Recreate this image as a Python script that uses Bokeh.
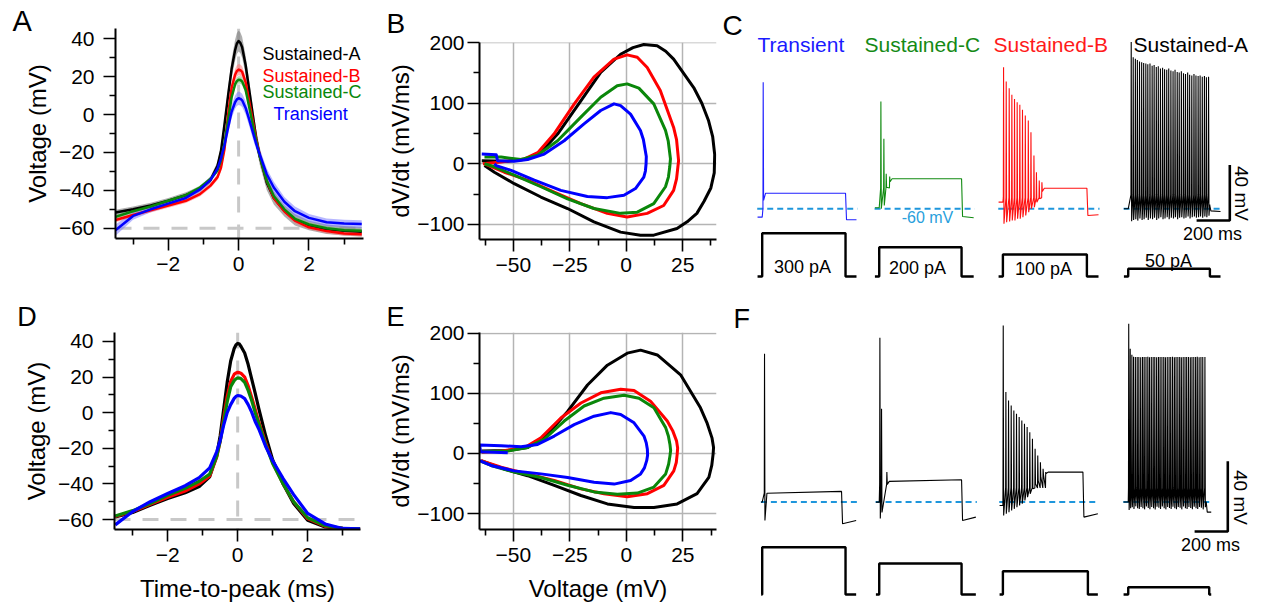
from bokeh.plotting import figure
from bokeh.models import Range1d, FixedTicker, Span, Label
from bokeh.layouts import row, column
from bokeh.embed import file_html
from bokeh.resources import INLINE

FONT = "Liberation Sans"
BLACK = "#000000"
RED = "#ff0000"
GREEN = "#0a870a"
BLUE = "#0000ff"
DASHBLUE = "#1e96dc"

# ===================== DATA =====================
group_names = ["Sustained-A", "Sustained-B", "Sustained-C", "Transient"]
stim_labels = ["300 pA", "200 pA", "100 pA", "50 pA"]

# ---- Panel A / D : AP waveforms (mV) vs time-to-peak (ms)
ap_time_ms = [-3.5, -3.0, -2.5, -2.0, -1.5, -1.1, -0.8, -0.6, -0.5, -0.4, -0.3, -0.2, -0.1, -0.05, 0.0,
              0.05, 0.1, 0.2, 0.3, 0.4, 0.5, 0.6, 0.8, 1.0, 1.3, 1.6, 2.0, 2.5, 3.0, 3.5]

A_sustA = [-51.7, -50.0, -48.0, -45.5, -42.5, -39.3, -34.5, -27.0, -19.0, -5.0, 10.0, 24.0, 34.0, 37.5, 38.8,
           37.8, 35.5, 26.0, 13.0, 0.0, -12.5, -22.0, -36.0, -44.0, -50.8, -55.5, -58.5, -60.5, -61.3, -61.8]
A_sustA_sem = [1.5, 1.5, 1.5, 1.5, 1.5, 1.5, 1.8, 2.0, 2.5, 3.0, 4.0, 5.0, 5.5, 5.5, 5.5,
               5.5, 5.5, 5.0, 5.0, 5.0, 4.5, 4.5, 4.0, 3.5, 3.0, 3.0, 2.5, 2.5, 2.5, 2.5]
A_sustB = [-55.6, -53.0, -50.5, -48.0, -45.5, -42.0, -37.5, -33.0, -28.0, -18.0, 0.0, 14.0, 21.0, 23.0, 23.7,
           23.4, 22.5, 17.0, 7.0, -3.0, -13.0, -21.5, -35.0, -44.0, -51.0, -56.0, -59.5, -61.5, -62.8, -63.2]
A_sustB_sem = [1.2, 1.2, 1.2, 1.2, 1.2, 1.2, 1.3, 1.5, 2.0, 2.5, 3.0, 3.0, 3.0, 3.0, 3.0,
               3.0, 3.0, 3.0, 3.0, 2.5, 2.5, 2.0, 2.0, 1.8, 1.5, 1.5, 1.2, 1.2, 1.2, 1.2]
A_sustC = [-54.0, -51.0, -48.5, -45.5, -42.5, -38.5, -34.0, -29.5, -24.0, -15.0, -3.0, 9.0, 16.0, 17.6, 18.4,
           18.2, 17.5, 13.0, 4.0, -5.0, -14.0, -22.0, -35.0, -43.0, -50.0, -55.0, -58.0, -60.0, -61.0, -61.3]
A_sustC_sem = [1.0, 1.0, 1.0, 1.0, 1.0, 1.0, 1.0, 1.2, 1.5, 2.0, 2.0, 2.0, 2.0, 2.0, 2.0,
               2.0, 2.0, 2.0, 2.0, 2.0, 2.0, 1.8, 1.5, 1.5, 1.2, 1.2, 1.0, 1.0, 1.0, 1.0]
A_trans = [-61.0, -53.5, -50.0, -47.0, -44.0, -39.5, -34.5, -28.5, -23.0, -16.0, -7.0, 1.5, 6.5, 8.0, 8.6,
           8.3, 7.5, 3.5, -2.5, -9.0, -15.5, -21.0, -31.5, -38.5, -46.0, -51.0, -54.5, -56.8, -57.5, -57.8]
A_trans_sem = [3.0, 2.0, 1.5, 1.5, 1.5, 1.5, 1.5, 2.0, 2.5, 3.0, 3.5, 3.5, 3.5, 3.5, 3.5,
               3.5, 3.5, 3.5, 3.5, 3.5, 3.0, 3.0, 3.0, 3.0, 2.5, 2.5, 2.0, 2.0, 2.0, 2.0]

D_sustA = [-58.5, -56.0, -52.0, -48.2, -45.0, -41.5, -36.0, -24.0, -13.0, 2.0, 17.0, 29.0, 36.0, 38.0, 38.9,
           38.5, 37.0, 33.5, 27.0, 19.0, 11.0, 2.5, -13.0, -26.5, -40.0, -51.0, -60.4, -64.2, -65.0, -65.3]
D_sustB = [-58.3, -55.5, -51.5, -47.5, -44.0, -40.0, -35.5, -25.0, -16.0, -3.0, 9.0, 17.5, 21.5, 22.3, 22.6,
           22.5, 22.0, 20.0, 15.0, 8.7, 2.0, -5.0, -17.0, -28.0, -40.0, -50.0, -59.5, -63.8, -65.0, -65.3]
D_sustC = [-58.0, -55.0, -51.0, -46.4, -42.5, -38.5, -34.5, -24.5, -16.0, -5.0, 6.0, 14.5, 18.0, 19.0, 19.5,
           19.4, 19.0, 17.0, 12.5, 6.8, 0.0, -6.0, -18.0, -28.5, -40.0, -50.0, -59.0, -63.5, -65.0, -65.3]
D_trans = [-63.0, -55.5, -50.0, -45.4, -41.0, -36.5, -31.0, -22.0, -15.6, -7.0, 0.0, 4.5, 8.0, 9.1, 9.6,
           9.5, 9.2, 7.9, 4.5, 0.3, -5.0, -9.0, -19.0, -27.0, -37.0, -46.0, -56.6, -62.5, -65.0, -65.3]

# ---- Panel B / E : phase plots (V in mV, dV/dt in mV/ms)
B_sustA_V = [-64, -52.5, -43.7, -37.8, -30.4, -20.1, -11.3, -2.5, 3.0, 7.8, 13.7, 17.5, 21, 29.9, 33.5, 36.5,
             38.3, 39.2, 39.0, 37.5, 34.5, 31.3, 27.0, 22.5, 12.2, 6.3, -2.5, -14.3, -26, -37.8, -49.6, -58.4, -62.8]
B_sustA_dV = [5, 4, 8, 19, 49, 104, 151, 181, 192, 197, 195, 186, 173, 126, 100, 71,
              45, 15, -15, -40, -62, -82, -96, -107, -118, -118, -113, -96, -74, -55, -33, -14, -3]
B_sustB_V = [-63.5, -55.4, -45, -39, -32, -23, -14.3, -5.4, 0.4, 4.9, 9.3, 15.1, 21, 22.3, 23.2, 22.9,
             22.3, 21, 16.6, 9.3, 0.4, -8.4, -20.1, -31.9, -43.7, -54, -62.8]
B_sustB_dV = [0, 3, 8, 19, 49, 99, 143, 173, 180, 176, 159, 121, 60, 40, 5, -5,
              -25, -44, -69, -82, -88, -82, -66, -47, -27, -14, 0]
B_sustC_V = [-62.8, -55.4, -46.6, -39.3, -30.4, -20.1, -11.3, -4, 0.4, 5.6, 12.2, 17.4, 18.6, 19.6, 19.3,
             18.7, 17.4, 12.2, 4.9, -2.5, -14.3, -26, -37.8, -49.6, -58.4, -62.8]
B_sustC_dV = [11, 11, 7, 14, 38, 77, 110, 129, 132, 125, 99, 55, 38, 8, -5,
              -22, -38, -66, -80, -82, -74, -58, -38, -19, -5, 0]
B_trans_V = [-64, -57.6, -57, -49.6, -43.7, -36.3, -27.5, -18.7, -11.3, -5.4, -2.5, 1.9, 6.3, 7.6, 8.9, 8.8,
             8.5, 7.8, 4.1, -1, -8.4, -17.2, -29, -40.7, -51, -57.6, -58.4]
B_trans_dV = [16, 15, 5, 4, 7, 16, 38, 66, 88, 99, 96, 82, 55, 40, 12, 0,
              -12, -22, -41, -52, -56, -54, -44, -27, -11, -3, 0]

E_sustA_V = [-64, -52.5, -43.7, -34.9, -26, -17.2, -8.4, 0.4, 6.3, 13.7, 24, 32.8, 35.8, 37.9, 38.6, 38.4,
             37.8, 36.5, 31.3, 22.5, 12.2, 3.4, -8.4, -20.1, -31.9, -43.7, -54, -64.3]
E_sustA_dV = [4, 5, 10, 32, 70, 114, 147, 167, 172, 164, 131, 76, 50, 26, 10, -1,
              -20, -40, -67, -84, -90, -90, -84, -70, -53, -37, -26, -12]
E_sustB_V = [-64, -55, -45, -37.8, -29, -20.1, -11.3, -2.5, 3.4, 10.7, 18.1, 20.5, 22.2, 22.7, 22.5,
             22.1, 21, 16.6, 9.3, 0.4, -9.9, -20.1, -31.9, -43.7, -55.4, -64.3]
E_sustB_dV = [2, 4, 10, 26, 59, 84, 101, 107, 105, 87, 54, 38, 21, 9, -1,
              -15, -29, -53, -67, -72, -67, -59, -45, -34, -23, -12]
E_sustC_V = [-64, -52.5, -43.7, -36.3, -27.5, -18.7, -9.9, -1, 5.6, 12.2, 17.4, 18.6, 19.3, 19.6, 19.3,
             18.7, 17.4, 12.2, 4.9, -4, -14.3, -26, -37.8, -49.6, -59.9, -64.3]
E_sustC_dV = [3, 4, 10, 24, 54, 79, 92, 97, 92, 76, 43, 29, 15, 5, -4,
              -18, -34, -56, -66, -68, -64, -53, -40, -31, -20, -13]
E_trans_V = [-52.5, -64.5, -65, -55.4, -46.6, -39.3, -31.9, -23.1, -14.3, -6.9, -2.5, 3.4, 7.8, 8.8, 9.3,
             9.4, 9, 8, 6.3, 1.9, -5.4, -14.3, -26, -37.8, -49.6, -59.9, -65]
E_trans_dV = [1, 3, 14, 13, 11, 15, 29, 48, 62, 68, 65, 51, 29, 18, 7,
              -3, -12, -24, -34, -45, -51, -48, -40, -34, -29, -20, -12]

# ---- Panel C : example firing (time re. step onset in ms, voltage in mV)
C_trans_spk_t = [6]
C_trans_spk_pk = [31.1]
C_trans_spk_tr = [-54.0]
C_trans_levels = [-66.0, -48.8, -48.8, -67.9, -67.9]     # pre, plateau start, plateau end, post drop, post end
C_trans_times = [-28, 502, 568]                            # start, step-off, end

C_sustC_spk_t = [10, 28, 42, 63]
C_sustC_spk_pk = [17.2, -9.6, -34.8, -36.8]
C_sustC_spk_tr = [-60.0, -57.6, -44.5, -40.5]
C_sustC_levels = [-59.2, -38.4, -38.4, -65.5, -66.5]
C_sustC_times = [-26, 496, 569]

C_sustB_spk_t = [4, 20, 38, 54, 70, 86, 102, 118, 135, 153, 169, 187, 202, 219, 235]
C_sustB_spk_pk = [41.9, 31.6, 26.8, 22.0, 19.1, 16.7, 14.8, 11.2, 7.1, 3.5, -4.9, -21.7, -33.7, -39.6, -40.9]
C_sustB_spk_tr = [-70.8, -69.6, -69.1, -68.4, -68.4, -67.2, -67.2, -66.0, -64.8, -62.4, -60.0, -58.8, -55.3, -52.8, -47.5]
C_sustB_levels = [-55.2, -45.2, -45.2, -64.8, -64.3]
C_sustB_times = [-26, 506, 576]

C_sustA_spk_t = [18, 30, 43, 55, 68, 81, 93, 106, 118, 131, 144, 156, 169, 181, 194, 207, 219, 232, 244,
                 257, 270, 282, 295, 307, 320, 333, 345, 358, 370, 383, 396, 408, 421, 433, 446, 459, 471, 484]
C_sustA_spk_pk = [60.0, 49.0, 48.0, 47.0, 46.0, 45.5, 45.0, 44.5, 44.0, 44.5, 43.0, 43.5, 42.0, 42.5, 41.0, 41.5,
                  40.5, 40.0, 41.0, 39.5, 39.0, 40.0, 38.5, 38.0, 39.0, 37.5, 37.0, 38.0, 36.5, 36.0, 37.0, 36.0,
                  35.5, 36.0, 35.0, 35.5, 34.7, 35.0]
C_sustA_spk_tr = [-69.0, -68.0, -67.5, -68.5, -67.0, -68.0, -67.5, -66.5, -68.0, -67.0, -67.5, -66.5, -68.0,
                  -67.0, -66.0, -67.5, -67.0, -66.0, -67.5, -66.5, -67.0, -66.0, -67.5, -66.5, -66.0, -67.0,
                  -66.5, -65.5, -67.0, -66.0, -65.5, -66.5, -66.0, -65.5, -66.5, -65.5, -66.0, -65.0]
C_sustA_levels = [-60.0, -57.0, -58.0, -61.5, -62.0]
C_sustA_times = [-26, 492, 556]

# ---- Panel F : example firing, second set (all black)
F_1_spk_t = [14]
F_1_spk_pk = [24.3]
F_1_spk_tr = [-70.5]
F_1_levels = [-60.1, -55.0, -54.0, -72.4, -70.5]
F_1_times = [-6, 478, 566]

F_2_spk_t = [4, 14, 46]
F_2_spk_pk = [33.4, -7.0, -43.0]
F_2_spk_tr = [-69.4, -66.0, -50.0]
F_2_levels = [-60.1, -48.3, -47.4, -70.5, -68.6]
F_2_times = [-20, 496, 582]

F_3_spk_t = [2, 18, 34, 50, 66, 82, 98, 114, 130, 146, 162, 178, 194, 210, 226, 242, 258]
F_3_spk_pk = [40.4, 2.5, -2.3, -5.1, -8.0, -9.8, -11.7, -13.6, -15.5, -17.4, -20.3, -24.0, -29.7, -33.5,
              -37.4, -41.1, -43.0]
F_3_spk_tr = [-67.7, -66.7, -65.8, -64.8, -63.9, -63.0, -62.0, -61.0, -59.1, -57.3, -55.3, -52.5, -49.7,
              -47.8, -45.9, -44.5, -43.8]
F_3_levels = [-62.0, -43.0, -43.0, -68.6, -66.7]
F_3_times = [-20, 482, 572]

F_4_spk_t = [3, 12, 22, 32, 43, 54, 64, 75, 86, 96, 107, 118, 128, 139, 150, 160, 171, 182, 192, 203, 214, 224,
             235, 246, 256, 267, 278, 288, 299, 310, 320, 331, 342, 352, 363, 374, 384, 395, 406, 416, 427, 438,
             449, 462]
F_4_spk_pk = [41.4, 27.1, 23.7, 22.6, 22.4, 22.5, 22.4, 22.3, 22.5, 22.4, 22.4, 22.6, 22.3, 22.4, 22.5, 22.4,
              22.3, 22.4, 22.5, 22.4, 22.4, 22.3, 22.5, 22.4, 22.4, 22.6, 22.3, 22.4, 22.5, 22.4, 22.3, 22.4,
              22.5, 22.4, 22.4, 22.3, 22.5, 22.4, 22.4, 22.6, 22.3, 22.4, 22.5, 22.4]
F_4_spk_tr = [-64.5, -63.5, -63.0, -64.0, -62.5, -63.5, -64.0, -62.8, -63.6, -64.2, -62.6, -63.4, -64.1, -62.9,
              -63.5, -64.3, -62.7, -63.3, -64.0, -62.6, -63.6, -64.2, -62.8, -63.4, -64.0, -62.7, -63.5, -64.1,
              -62.9, -63.3, -64.2, -62.6, -63.5, -64.0, -62.8, -63.4, -64.1, -62.7, -63.6, -64.0, -62.9, -63.3,
              -64.2, -63.0]
F_4_levels = [-60.0, -60.0, -60.0, -65.8, -65.8]
F_4_times = [-28, 470, 500]

stim_off_C = [502, 496, 506, 492]
stim_off_F = [502, 496, 512, 488]
rest_line_mV = -60.0

# ===================== LAYOUT (page pixels) =====================
FR = {
    "A": dict(cx=0, cy=0, w=380, h=300, fl=115, ft=28, fw=248, fh=210, xr=(-3.5, 3.55), yr=(-65.4, 45.4)),
    "B": dict(cx=380, cy=0, w=340, h=300, fl=479, ft=42, fw=237, fh=197, xr=(-65.0, 40.0), yr=(-125.2, 200.4)),
    "C": dict(cx=720, cy=0, w=543, h=300, fl=720, ft=0, fw=543, fh=300, xr=(-251.2, 3019.9), yr=(-126.0, 89.9)),
    "D": dict(cx=0, cy=300, w=380, h=311, fl=112, ft=332, fw=248, fh=197, xr=(-3.52, 3.51), yr=(-65.6, 45.0)),
    "E": dict(cx=380, cy=300, w=340, h=311, fl=479, ft=332, fw=237, fh=197, xr=(-65.0, 39.9), yr=(-126.6, 201.4)),
    "F": dict(cx=720, cy=300, w=543, h=311, fl=720, ft=300, fw=543, fh=311, xr=(-251.2, 3019.9), yr=(-122.3, 54.6)),
}
trace_offsets = [0, 705, 1450, 2205]          # ms, horizontal placement of the 4 example traces
stim_base_page = {"C": 276, "F": 594}
stim_height_px = {"C": [43.3, 29.3, 22.0, 7.7], "F": [47.3, 31.0, 23.3, 7.3]}


def sx(k):
    f = FR[k]
    return f["fw"] / (f["xr"][1] - f["xr"][0])


def sy(k):
    f = FR[k]
    return f["fh"] / (f["yr"][1] - f["yr"][0])


def p2d(k, px, py):
    f = FR[k]
    return f["xr"][0] + (px - f["fl"]) / sx(k), f["yr"][1] - (py - f["ft"]) / sy(k)


def make_fig(k, axes=True):
    f = FR[k]
    left = f["fl"] - f["cx"]
    top = f["ft"] - f["cy"]
    kw = dict(width=f["w"], height=f["h"], x_range=Range1d(*f["xr"]), y_range=Range1d(*f["yr"]),
              output_backend="svg", toolbar_location=None,
              min_border_left=left, min_border_top=top,
              min_border_right=f["w"] - left - f["fw"], min_border_bottom=f["h"] - top - f["fh"])
    if not axes:
        kw["x_axis_type"] = None
        kw["y_axis_type"] = None
    p = figure(**kw)
    p.frame_align = False
    p.outline_line_color = None
    p.grid.visible = False
    p.background_fill_color = "white"
    p.border_fill_color = "white"
    return p


def text(p, k, px, py, s, size, color=BLACK, align="left", baseline="middle", angle=0.0, place=None):
    x, y = p2d(k, px, py)
    lab = Label(x=x, y=y, text=s, text_font=FONT, text_font_size=f"{size}px", text_color=color,
                text_align=align, text_baseline=baseline, angle=angle)
    if place is None:
        p.add_layout(lab)
    else:
        p.add_layout(lab, place)


def style_axes(p, xt, xm, yt, ym, xlab=None, ylab=None, ystand=9, xstand=6, ylabstand=5, xlabstand=10):
    p.xaxis.ticker = FixedTicker(ticks=xt, minor_ticks=xm)
    p.yaxis.ticker = FixedTicker(ticks=yt, minor_ticks=ym)
    for ax in list(p.xaxis) + list(p.yaxis):
        ax.axis_line_width = 2
        ax.axis_line_color = BLACK
        ax.major_tick_line_width = 1.6
        ax.minor_tick_line_width = 1.6
        ax.major_tick_line_color = BLACK
        ax.minor_tick_line_color = BLACK
        ax.major_tick_out = 12
        ax.major_tick_in = 0
        ax.minor_tick_out = 6
        ax.minor_tick_in = 0
        ax.major_label_text_font = FONT
        ax.major_label_text_font_size = "21px"
        ax.major_label_text_color = BLACK
        ax.axis_label_text_font = FONT
        ax.axis_label_text_font_size = "24px"
        ax.axis_label_text_font_style = "normal"
        ax.axis_label_text_color = BLACK
    p.yaxis.major_label_standoff = ystand
    p.xaxis.major_label_standoff = xstand
    p.yaxis.axis_label_standoff = ylabstand
    p.xaxis.axis_label_standoff = xlabstand
    if xlab:
        p.xaxis.axis_label = xlab
    if ylab:
        p.yaxis.axis_label = ylab


colors4 = [BLACK, RED, GREEN, BLUE]
band_colors = ["#7a7a7a", "#ff7070", "#70b870", "#7070ff"]
band_alpha = [0.6, 0.5, 0.5, 0.5]


def ap_panel(k, series, sems, xlab=None, lw=2.5):
    p = make_fig(k)
    for loc, dim in ((rest_line_mV, "width"), (0.0, "height")):
        p.add_layout(Span(location=loc, dimension=dim, line_color="#c8c8c8", line_width=3,
                          line_dash="16 12", level="underlay"))
    if sems is not None:
        for m, s, bc, ba in zip(series, sems, band_colors, band_alpha):
            p.varea(x=ap_time_ms, y1=[a - b for a, b in zip(m, s)], y2=[a + b for a, b in zip(m, s)],
                    fill_color=bc, fill_alpha=ba)
    for m, c in zip(series, colors4):
        p.line(ap_time_ms, m, line_color=c, line_width=lw, line_join="round")
    style_axes(p, [-2, 0, 2], [-3, -1, 1, 3], [-60, -40, -20, 0, 20, 40], [-50, -30, -10, 10, 30],
               xlab=xlab, ylab="Voltage (mV)")
    return p


def phase_panel(k, curves, xlab=None):
    p = make_fig(k)
    p.grid.visible = True
    p.grid.grid_line_color = "#b4b4b4"
    p.grid.grid_line_width = 1.5
    for (v, d), c in zip(curves, colors4):
        p.line(v, d, line_color=c, line_width=3, line_join="round")
    style_axes(p, [-50, -25, 0, 25], [-62.5, -37.5, -12.5, 12.5, 37.5], [-100, 0, 100, 200], [-50, 50, 150],
               xlab=xlab, ylab="dV/dt (mV/ms)", ystand=3, ylabstand=0)
    return p


def spike_trace(spk_t, spk_pk, spk_tr, levels, times, thr):
    t0, t_off, t_end = times
    v_pre, v_p0, v_p1, v_drop, v_end = levels
    xs = [t0, 0]
    ys = [v_pre, v_pre]
    for t, pk, tr in zip(spk_t, spk_pk, spk_tr):
        xs += [t - 1.5, t, t + 2.5]
        ys += [min(thr, pk), pk, tr]
    last = spk_t[-1] + 2.5
    xs += [min(last + 12, t_off - 1), t_off, t_off + 6, t_end]
    ys += [v_p0, v_p1, v_drop, v_end]
    return xs, ys


def trace_panel(k, traces, tcolors, stim_off, thr_list):
    p = make_fig(k, axes=False)
    base_x, base_y = p2d(k, 0, stim_base_page[k])
    for i, ((spk_t, pk, tr, lev, tim), c, off, thr) in enumerate(zip(traces, tcolors, stim_off, thr_list)):
        o = trace_offsets[i]
        xs, ys = spike_trace(spk_t, pk, tr, lev, tim, thr)
        p.line([o + tim[0] - 2, o + tim[2] + 6], [rest_line_mV, rest_line_mV], line_color=DASHBLUE,
               line_width=2, line_dash="6 4")
        p.line([o + x for x in xs], ys, line_color=c, line_width=1.1)
        h = stim_height_px[k][i] / sy(k)
        sxs = [o + tim[0], o, o, o + off, o + off, o + tim[2]]
        sys_ = [base_y, base_y, base_y + h, base_y + h, base_y, base_y]
        p.line(sxs, sys_, line_color=BLACK, line_width=2.4)
    return p


def scale_bar(p, k, corner_px, corner_py, lab40, lab200):
    x0, y0 = p2d(k, corner_px, corner_py)
    p.line([x0 - 200, x0, x0], [y0, y0, y0 + 40], line_color=BLACK, line_width=2.6)
    text(p, k, lab40[0], lab40[1], "40 mV", 19, align="center", angle=-1.5708)
    text(p, k, lab200[0], lab200[1], "200 ms", 18, align="center")


# ---------------- Panel A
pA = ap_panel("A", [A_sustA, A_sustB, A_sustC, A_trans],
              [A_sustA_sem, A_sustB_sem, A_sustC_sem, A_trans_sem])
text(pA, "A", 12, 20, "A", 29, place="left")
for name, c, (px, py) in zip(group_names, colors4, [(262, 53), (262, 75), (262, 91.5), (273, 113.5)]):
    text(pA, "A", px, py, name, 18, color=c)

# ---------------- Panel B
pB = phase_panel("B", [(B_sustA_V, B_sustA_dV), (B_sustB_V, B_sustB_dV), (B_sustC_V, B_sustC_dV),
                       (B_trans_V, B_trans_dV)])
text(pB, "B", 386, 23, "B", 28, place="above")

# ---------------- Panel C
pC = trace_panel("C",
                 [(C_trans_spk_t, C_trans_spk_pk, C_trans_spk_tr, C_trans_levels, C_trans_times),
                  (C_sustC_spk_t, C_sustC_spk_pk, C_sustC_spk_tr, C_sustC_levels, C_sustC_times),
                  (C_sustB_spk_t, C_sustB_spk_pk, C_sustB_spk_tr, C_sustB_levels, C_sustB_times),
                  (C_sustA_spk_t, C_sustA_spk_pk, C_sustA_spk_tr, C_sustA_levels, C_sustA_times)],
                 ["#2020ff", "#108a10", "#ff1010", BLACK], stim_off_C, [-60, -45, -52, -50])
text(pC, "C", 722, 24.5, "C", 28)
for name, c, px in zip(["Transient", "Sustained-C", "Sustained-B", "Sustained-A"],
                       ["#1a1aff", "#158a15", "#ff1a1a", BLACK], [757, 864, 993, 1133]):
    text(pC, "C", px, 43.5, name, 21, color=c)
text(pC, "C", 927, 217, "-60 mV", 16, color="#29a0dc", align="center")
for lab, (px, py) in zip(stim_labels, [(802, 266), (917, 267), (1043, 268), (1168, 260)]):
    text(pC, "C", px, py, lab, 18, align="center")
scale_bar(pC, "C", 1229.3, 220, (1241, 193), (1212, 233))

# ---------------- Panel D
pD = ap_panel("D", [D_sustA, D_sustB, D_sustC, D_trans], None, xlab="Time-to-peak (ms)", lw=3.2)
text(pD, "D", 14, 316.5, "D", 27, place="left")

# ---------------- Panel E
pE = phase_panel("E", [(E_sustA_V, E_sustA_dV), (E_sustB_V, E_sustB_dV), (E_sustC_V, E_sustC_dV),
                       (E_trans_V, E_trans_dV)], xlab="Voltage (mV)")
text(pE, "E", 386, 316.5, "E", 27, place="above")

# ---------------- Panel F
pF = trace_panel("F",
                 [(F_1_spk_t, F_1_spk_pk, F_1_spk_tr, F_1_levels, F_1_times),
                  (F_2_spk_t, F_2_spk_pk, F_2_spk_tr, F_2_levels, F_2_times),
                  (F_3_spk_t, F_3_spk_pk, F_3_spk_tr, F_3_levels, F_3_times),
                  (F_4_spk_t, F_4_spk_pk, F_4_spk_tr, F_4_levels, F_4_times)],
                 [BLACK] * 4, stim_off_F, [-55, -50, -52, -52])
text(pF, "F", 733, 318, "F", 27)
scale_bar(pF, "F", 1227.3, 531, (1240, 497), (1210, 544))

layout = column(row(pA, pB, pC), row(pD, pE, pF))
open("out.html", "w").write(file_html(layout, INLINE))
